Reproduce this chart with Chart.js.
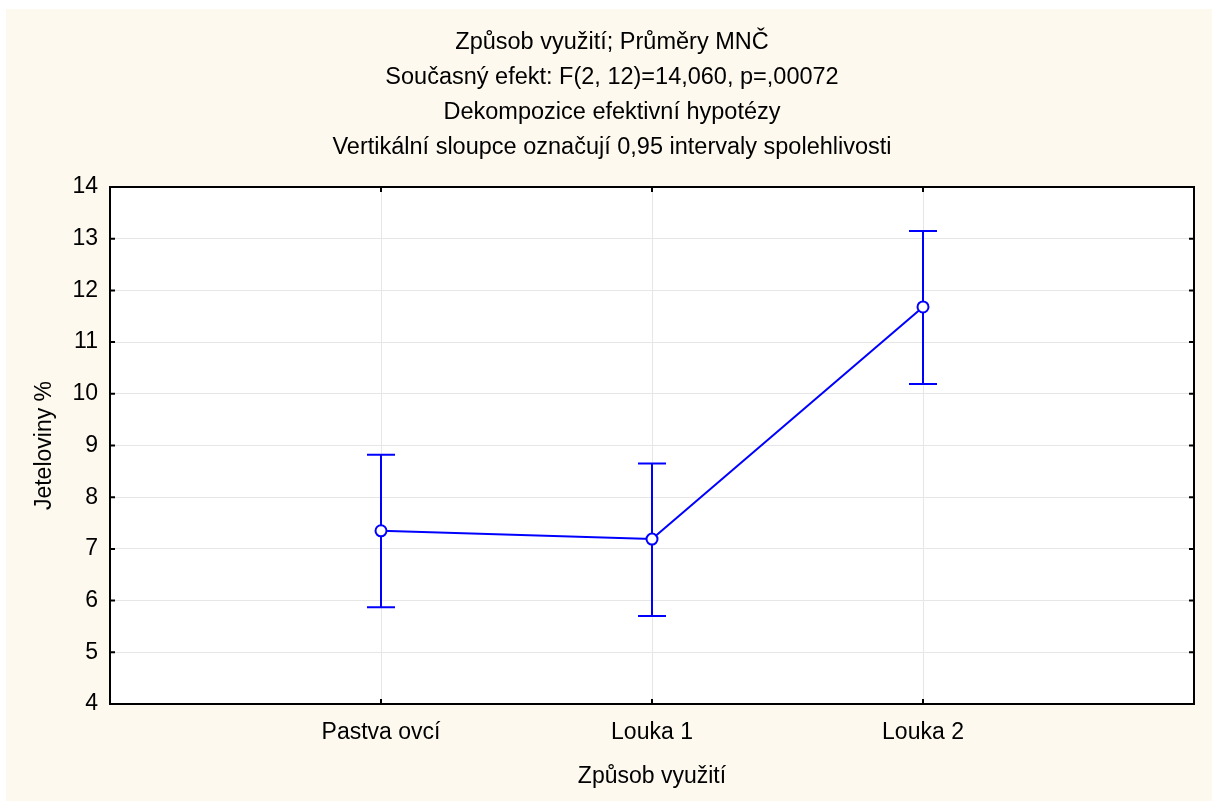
<!DOCTYPE html>
<html>
<head>
<meta charset="utf-8">
<title>Způsob využití; Průměry MNČ</title>
<script src="https://cdn.jsdelivr.net/npm/chart.js@4.4.1/dist/chart.umd.min.js"></script>
<style>
  html, body { margin: 0; padding: 0; background: #ffffff; }
  #wrap { width: 1212px; height: 801px; }
</style>
</head>
<body>
<div id="wrap"><canvas id="chart" width="1212" height="801"></canvas></div>
<script>
// data
const categories = ['Pastva ovcí', 'Louka 1', 'Louka 2'];
const means = [7.35, 7.19, 11.68];
const lowerCI = [5.87, 5.70, 10.19];
const upperCI = [8.82, 8.65, 13.15];
const yMin = 4;
const yMax = 14;
const titleLines = [
    'Způsob využití; Průměry MNČ',
    'Současný efekt: F(2, 12)=14,060, p=,00072',
    'Dekompozice efektivní hypotézy',
    'Vertikální sloupce označují 0,95 intervaly spolehlivosti'
];

const FONT = "'Liberation Sans', Arial, sans-serif";
const BLUE = '#0000ff';

// background panel, error bars, plot frame with inward ticks
const statPlugin = {
    id: 'statFrame',
    beforeDraw(chart) {
        const { ctx, chartArea: a } = chart;
        ctx.save();
        ctx.fillStyle = '#ffffff';
        ctx.fillRect(0, 0, chart.width, chart.height);
        ctx.fillStyle = '#fdf9ee';
        ctx.fillRect(6, 9, chart.width - 6, chart.height - 9);
        ctx.fillStyle = '#ffffff';
        ctx.fillRect(a.left, a.top, a.right - a.left, a.bottom - a.top);
        ctx.restore();
    },
    beforeDatasetsDraw(chart) {
        const { ctx, scales: { x, y } } = chart;
        ctx.save();
        ctx.strokeStyle = BLUE;
        ctx.lineWidth = 2;
        categories.forEach((c, i) => {
            const px = x.getPixelForValue(i + 1);
            const top = y.getPixelForValue(upperCI[i]);
            const bot = y.getPixelForValue(lowerCI[i]);
            ctx.beginPath();
            ctx.moveTo(px, top); ctx.lineTo(px, bot);
            ctx.moveTo(px - 14, top); ctx.lineTo(px + 14, top);
            ctx.moveTo(px - 14, bot); ctx.lineTo(px + 14, bot);
            ctx.stroke();
        });
        ctx.restore();
    },
    afterDraw(chart) {
        const { ctx, chartArea: a, scales: { x, y } } = chart;
        ctx.save();
        ctx.strokeStyle = '#000000';
        ctx.lineWidth = 2;
        ctx.strokeRect(a.left, a.top, a.right - a.left, a.bottom - a.top);
        ctx.beginPath();
        for (let v = yMin + 1; v < yMax; v++) {
            const py = y.getPixelForValue(v);
            ctx.moveTo(a.left, py); ctx.lineTo(a.left + 5, py);
            ctx.moveTo(a.right, py); ctx.lineTo(a.right - 5, py);
        }
        categories.forEach((c, i) => {
            const px = x.getPixelForValue(i + 1);
            ctx.moveTo(px, a.bottom); ctx.lineTo(px, a.bottom - 5);
            ctx.moveTo(px, a.top); ctx.lineTo(px, a.top + 5);
        });
        ctx.stroke();
        ctx.restore();
    }
};

const ctx = document.getElementById('chart').getContext('2d');
new Chart(ctx, {
    type: 'line',
    data: {
        datasets: [{
            label: 'Jeteloviny %',
            data: categories.map((c, i) => ({ x: i + 1, y: means[i] })),
            borderColor: BLUE,
            borderWidth: 2,
            backgroundColor: '#ffffff',
            pointBackgroundColor: '#ffffff',
            pointBorderColor: BLUE,
            pointBorderWidth: 2,
            pointRadius: 5.5,
            tension: 0,
            fill: false
        }]
    },
    options: {
        responsive: false,
        animation: false,
        layout: { padding: { left: 30, right: 18, top: 0, bottom: 0 } },
        plugins: {
            legend: { display: false },
            tooltip: { enabled: false },
            title: {
                display: true,
                text: titleLines,
                color: '#000000',
                font: { family: FONT, size: 23.5, weight: 'normal', lineHeight: '35px' },
                padding: { top: 25.5, bottom: 21.5 }
            }
        },
        scales: {
            x: {
                type: 'linear',
                min: 0,
                max: categories.length + 1,
                afterFit(scale) { scale.height = 97; },
                grid: { color: '#e6e6e6', lineWidth: 1, drawTicks: false },
                border: { display: false },
                ticks: {
                    stepSize: 1,
                    padding: 15,
                    color: '#000000',
                    font: { family: FONT, size: 23 },
                    callback: (v) => categories[v - 1] || ''
                },
                title: {
                    display: true,
                    text: 'Způsob využití',
                    color: '#000000',
                    font: { family: FONT, size: 23 },
                    padding: { top: 0, bottom: 11 }
                }
            },
            y: {
                min: yMin,
                max: yMax,
                afterFit(scale) { scale.width = 80; },
                grid: { color: '#e6e6e6', lineWidth: 1, drawTicks: false },
                border: { display: false },
                ticks: {
                    stepSize: 1,
                    padding: 12,
                    color: '#000000',
                    font: { family: FONT, size: 23 }
                },
                title: {
                    display: true,
                    text: 'Jeteloviny %',
                    color: '#000000',
                    font: { family: FONT, size: 23 },
                    padding: { top: 1, bottom: 0 }
                }
            }
        }
    },
    plugins: [statPlugin]
});
</script>
</body>
</html>
